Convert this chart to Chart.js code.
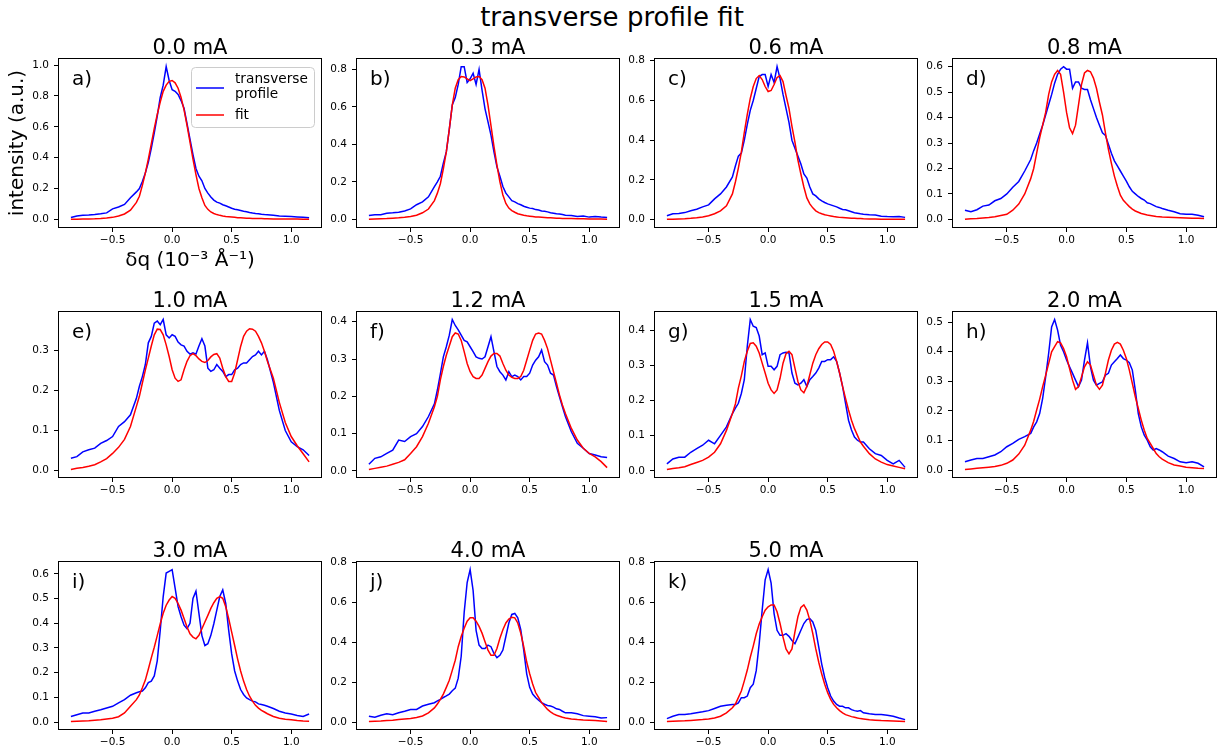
<!DOCTYPE html>
<html>
<head>
<meta charset="utf-8">
<script src="https://cdn.jsdelivr.net/npm/chart.js@4"></script>
<style>
  body { margin: 0; background: #fff; width: 1224px; height: 749px; position: relative; overflow: hidden; font-family: "DejaVu Sans", sans-serif; }
  #title { position: absolute; left: 0; top: 2px; width: 1224px; text-align: center; font-size: 26px; line-height: 30px; color: #000; }
</style>
</head>
<body>
<div id="title">transverse profile fit</div>
<script>
// shared q axis (10^-3 1/A), finer in the middle where the peaks are
const dq = [
  -0.85, -0.8, -0.75, -0.7, -0.65, -0.6, -0.55, -0.5, -0.45, -0.4, -0.35,
  -0.3, -0.275, -0.25, -0.225, -0.2, -0.175, -0.15, -0.125, -0.1,
  -0.075, -0.05, -0.025, 0, 0.025, 0.05, 0.075, 0.1, 0.125,
  0.15, 0.175, 0.2, 0.225, 0.25, 0.275, 0.3, 0.325, 0.35,
  0.375, 0.4, 0.425, 0.45, 0.475, 0.5, 0.525, 0.55, 0.575,
  0.6, 0.625, 0.65, 0.675, 0.7, 0.725, 0.75, 0.775, 0.8,
  0.85, 0.9, 0.95, 1.0, 1.05, 1.1, 1.15
];

const currents = ['0.0 mA', '0.3 mA', '0.6 mA', '0.8 mA', '1.0 mA', '1.2 mA', '1.5 mA', '2.0 mA', '3.0 mA', '4.0 mA', '5.0 mA'];
const tags = ['a)', 'b)', 'c)', 'd)', 'e)', 'f)', 'g)', 'h)', 'i)', 'j)', 'k)'];
const yStep = [0.2, 0.2, 0.2, 0.1, 0.1, 0.1, 0.1, 0.1, 0.1, 0.2, 0.2];
const xTicks = [-0.5, 0, 0.5, 1.0];

// measured transverse profiles (blue) and fits (red)
const prof_a = [
  0.012, 0.022, 0.026, 0.028, 0.031, 0.036, 0.042, 0.068, 0.08, 0.097, 0.14,
  0.178, 0.2, 0.245, 0.3, 0.37, 0.46, 0.56, 0.67, 0.79,
  0.87, 0.99, 0.9, 0.84, 0.83, 0.81, 0.77, 0.72, 0.62,
  0.52, 0.42, 0.33, 0.28, 0.25, 0.2, 0.17, 0.145, 0.125,
  0.112, 0.105, 0.095, 0.088, 0.08, 0.072, 0.066, 0.062, 0.057,
  0.052, 0.05, 0.045, 0.041, 0.038, 0.036, 0.033, 0.031, 0.03,
  0.026, 0.022, 0.02, 0.018, 0.016, 0.013, 0.01
];
const fit_a = [
  0.0, 0.001, 0.002, 0.003, 0.004, 0.006, 0.009, 0.013, 0.022, 0.035, 0.06,
  0.11, 0.15, 0.22, 0.3, 0.39, 0.49, 0.59, 0.68, 0.76,
  0.83, 0.87, 0.895, 0.9, 0.885, 0.85, 0.79, 0.71, 0.61,
  0.5, 0.39, 0.29, 0.2, 0.14, 0.09, 0.065, 0.048, 0.038,
  0.031, 0.026, 0.022, 0.019, 0.017, 0.015, 0.013, 0.011, 0.01,
  0.009, 0.008, 0.007, 0.006, 0.006, 0.005, 0.005, 0.004, 0.004,
  0.003, 0.003, 0.002, 0.002, 0.002, 0.001, 0.001
];
const prof_b = [
  0.02, 0.024, 0.025, 0.033, 0.035, 0.038, 0.045, 0.056, 0.078, 0.093, 0.12,
  0.175, 0.2, 0.23, 0.3, 0.36, 0.48, 0.61, 0.65, 0.72,
  0.815, 0.815, 0.73, 0.75, 0.78, 0.72, 0.8, 0.69, 0.59,
  0.52, 0.45, 0.36, 0.28, 0.23, 0.175, 0.14, 0.12, 0.1,
  0.093, 0.084, 0.078, 0.07, 0.065, 0.06, 0.058, 0.052, 0.05,
  0.045, 0.043, 0.04, 0.035, 0.033, 0.03, 0.028, 0.026, 0.022,
  0.02, 0.015, 0.018, 0.012, 0.015, 0.012, 0.01
];
const fit_b = [
  0.0, 0.002, 0.003, 0.004, 0.006, 0.008, 0.011, 0.015, 0.022, 0.035, 0.055,
  0.1, 0.14, 0.19, 0.27, 0.36, 0.48, 0.61, 0.7, 0.745,
  0.762, 0.76, 0.75, 0.74, 0.75, 0.76, 0.762, 0.745, 0.7,
  0.61, 0.5, 0.39, 0.29, 0.2, 0.13, 0.085, 0.06, 0.047,
  0.038, 0.03, 0.026, 0.022, 0.019, 0.017, 0.015, 0.013, 0.012,
  0.011, 0.01, 0.009, 0.008, 0.007, 0.006, 0.006, 0.005, 0.005,
  0.004, 0.003, 0.003, 0.002, 0.002, 0.002, 0.001
];
const prof_c = [
  0.02, 0.03, 0.032, 0.036, 0.045, 0.053, 0.065, 0.075, 0.105, 0.13, 0.165,
  0.215, 0.27, 0.32, 0.335, 0.4, 0.48, 0.55, 0.6, 0.66,
  0.72, 0.73, 0.73, 0.67, 0.73, 0.69, 0.77, 0.71, 0.63,
  0.56, 0.49, 0.4, 0.36, 0.32, 0.28, 0.23, 0.21, 0.165,
  0.13, 0.12, 0.105, 0.095, 0.087, 0.08, 0.075, 0.07, 0.065,
  0.058, 0.052, 0.05, 0.045, 0.04, 0.035, 0.033, 0.03, 0.028,
  0.025, 0.024, 0.018, 0.016, 0.015, 0.016, 0.012
];
const fit_c = [
  0.002, 0.003, 0.004, 0.005, 0.007, 0.01, 0.014, 0.02, 0.03, 0.045, 0.07,
  0.13, 0.19, 0.26, 0.34, 0.44, 0.53, 0.61, 0.67, 0.71,
  0.725, 0.705, 0.67, 0.645, 0.65, 0.68, 0.715, 0.725, 0.695,
  0.625, 0.56, 0.47, 0.39, 0.3, 0.23, 0.165, 0.11, 0.08,
  0.06, 0.045, 0.036, 0.03, 0.025, 0.022, 0.019, 0.016, 0.014,
  0.012, 0.011, 0.01, 0.009, 0.008, 0.007, 0.006, 0.006, 0.005,
  0.004, 0.004, 0.003, 0.003, 0.002, 0.002, 0.002
];
const prof_d = [
  0.036, 0.03, 0.038, 0.052, 0.056, 0.073, 0.082, 0.1, 0.126, 0.149, 0.19,
  0.235, 0.27, 0.3, 0.335, 0.37, 0.41, 0.45, 0.49, 0.535,
  0.57, 0.59, 0.6, 0.59, 0.59, 0.515, 0.54, 0.54, 0.515,
  0.51, 0.51, 0.47, 0.435, 0.4, 0.37, 0.34, 0.33, 0.295,
  0.26, 0.23, 0.21, 0.19, 0.17, 0.15, 0.128, 0.11, 0.1,
  0.09, 0.082, 0.076, 0.065, 0.062, 0.056, 0.05, 0.047, 0.043,
  0.036, 0.03, 0.022, 0.02, 0.02, 0.016, 0.01
];
const fit_d = [
  0.0, 0.002, 0.003, 0.005, 0.007, 0.01, 0.015, 0.02, 0.036, 0.06, 0.1,
  0.16, 0.2, 0.26, 0.32, 0.37, 0.42, 0.49, 0.54, 0.57,
  0.585, 0.57, 0.5, 0.42, 0.36, 0.337, 0.37, 0.45, 0.53,
  0.575, 0.585, 0.58, 0.555, 0.515, 0.46, 0.41, 0.34, 0.275,
  0.22, 0.17, 0.13, 0.095, 0.075, 0.062, 0.05, 0.04, 0.033,
  0.028, 0.023, 0.02, 0.017, 0.015, 0.013, 0.011, 0.01, 0.009,
  0.008, 0.007, 0.006, 0.005, 0.004, 0.004, 0.003
];
const prof_e = [
  0.031, 0.035, 0.047, 0.052, 0.056, 0.068, 0.075, 0.085, 0.11, 0.122, 0.139,
  0.18, 0.21, 0.234, 0.264, 0.318, 0.334, 0.367, 0.372, 0.363,
  0.376, 0.338, 0.33, 0.338, 0.334, 0.32, 0.313, 0.31, 0.297,
  0.29, 0.293, 0.29, 0.31, 0.328, 0.31, 0.255, 0.247, 0.251,
  0.264, 0.255, 0.247, 0.234, 0.239, 0.239, 0.251, 0.255, 0.264,
  0.268, 0.268, 0.276, 0.284, 0.288, 0.297, 0.288, 0.297, 0.276,
  0.22, 0.15, 0.1, 0.072, 0.06, 0.052, 0.038
];
const fit_e = [
  0.003, 0.006, 0.008, 0.011, 0.015, 0.022, 0.03, 0.043, 0.058, 0.078, 0.11,
  0.16, 0.185, 0.218, 0.25, 0.28, 0.31, 0.338, 0.352, 0.351,
  0.338, 0.313, 0.284, 0.251, 0.23, 0.222, 0.226, 0.251, 0.272,
  0.286, 0.291, 0.286, 0.278, 0.272, 0.269, 0.274, 0.283, 0.289,
  0.291, 0.28, 0.255, 0.234, 0.222, 0.222, 0.243, 0.276, 0.309,
  0.334, 0.347, 0.353, 0.352, 0.347, 0.334, 0.318, 0.297, 0.272,
  0.23, 0.17, 0.12, 0.085, 0.062, 0.042, 0.022
];
const prof_f = [
  0.018, 0.034, 0.038, 0.047, 0.056, 0.083, 0.079, 0.092, 0.1, 0.119, 0.146,
  0.18, 0.217, 0.26, 0.306, 0.333, 0.364, 0.406, 0.39, 0.378,
  0.364, 0.35, 0.346, 0.333, 0.32, 0.306, 0.302, 0.3, 0.306,
  0.333, 0.36, 0.32, 0.28, 0.266, 0.257, 0.244, 0.266, 0.253,
  0.257, 0.253, 0.244, 0.253, 0.253, 0.262, 0.284, 0.297, 0.306,
  0.324, 0.293, 0.284, 0.262, 0.257, 0.226, 0.199, 0.172, 0.146,
  0.105, 0.074, 0.061, 0.047, 0.043, 0.038, 0.036
];
const fit_f = [
  0.004, 0.007, 0.01, 0.013, 0.018, 0.023, 0.03, 0.047, 0.065, 0.092, 0.128,
  0.172, 0.2, 0.244, 0.28, 0.31, 0.335, 0.36, 0.37, 0.367,
  0.35, 0.32, 0.288, 0.266, 0.253, 0.248, 0.248, 0.257, 0.275,
  0.293, 0.308, 0.315, 0.315, 0.308, 0.288, 0.27, 0.257, 0.251,
  0.248, 0.248, 0.253, 0.27, 0.297, 0.324, 0.35, 0.367, 0.37,
  0.367, 0.35, 0.328, 0.297, 0.266, 0.235, 0.204, 0.177, 0.154,
  0.114, 0.083, 0.061, 0.047, 0.038, 0.025, 0.009
];
const prof_g = [
  0.02, 0.034, 0.039, 0.039, 0.053, 0.063, 0.073, 0.087, 0.077, 0.101, 0.125,
  0.163, 0.178, 0.192, 0.22, 0.259, 0.354, 0.43, 0.411, 0.407,
  0.383, 0.33, 0.335, 0.297, 0.297, 0.287, 0.297, 0.33, 0.335,
  0.337, 0.335, 0.278, 0.249, 0.244, 0.249, 0.259, 0.24, 0.259,
  0.268, 0.278, 0.292, 0.311, 0.311, 0.316, 0.316, 0.324, 0.311,
  0.278, 0.24, 0.192, 0.144, 0.116, 0.096, 0.087, 0.082, 0.082,
  0.063, 0.049, 0.044, 0.03, 0.02, 0.03, 0.01
];
const fit_g = [
  0.004, 0.007, 0.009, 0.012, 0.018, 0.024, 0.03, 0.039, 0.053, 0.077, 0.115,
  0.163, 0.19, 0.235, 0.27, 0.311, 0.34, 0.362, 0.364, 0.354,
  0.335, 0.306, 0.278, 0.249, 0.23, 0.22, 0.23, 0.263, 0.306,
  0.333, 0.34, 0.33, 0.292, 0.254, 0.23, 0.222, 0.24, 0.273,
  0.306, 0.33, 0.347, 0.359, 0.366, 0.366, 0.359, 0.34, 0.311,
  0.278, 0.24, 0.206, 0.173, 0.144, 0.12, 0.101, 0.082, 0.07,
  0.049, 0.034, 0.025, 0.018, 0.014, 0.01, 0.006
];
const prof_h = [
  0.028, 0.034, 0.039, 0.039, 0.045, 0.051, 0.062, 0.079, 0.09, 0.104, 0.113,
  0.124, 0.146, 0.163, 0.191, 0.242, 0.315, 0.394, 0.484, 0.509,
  0.473, 0.422, 0.4, 0.372, 0.349, 0.327, 0.304, 0.282, 0.304,
  0.372, 0.43, 0.349, 0.304, 0.287, 0.293, 0.298, 0.321, 0.327,
  0.355, 0.366, 0.377, 0.389, 0.377, 0.372, 0.363, 0.338, 0.27,
  0.191, 0.146, 0.118, 0.101, 0.079, 0.068, 0.073, 0.068, 0.062,
  0.047, 0.039, 0.028, 0.025, 0.028, 0.023, 0.011
];
const fit_h = [
  0.002, 0.004, 0.006, 0.008, 0.01, 0.012, 0.016, 0.023, 0.034, 0.054, 0.084,
  0.135, 0.165, 0.203, 0.24, 0.282, 0.32, 0.36, 0.4, 0.417,
  0.434, 0.43, 0.411, 0.383, 0.343, 0.304, 0.273, 0.282, 0.315,
  0.349, 0.366, 0.355, 0.321, 0.287, 0.273, 0.287, 0.327, 0.372,
  0.405, 0.426, 0.432, 0.426, 0.405, 0.377, 0.338, 0.293, 0.248,
  0.208, 0.169, 0.135, 0.107, 0.09, 0.073, 0.056, 0.045, 0.037,
  0.025, 0.017, 0.014, 0.01, 0.008, 0.006, 0.005
];
const prof_i = [
  0.023, 0.03, 0.037, 0.037, 0.044, 0.05, 0.057, 0.064, 0.078, 0.091, 0.109,
  0.119, 0.123, 0.126, 0.139, 0.16, 0.166, 0.187, 0.248, 0.371,
  0.508, 0.603, 0.61, 0.617, 0.542, 0.467, 0.426, 0.392, 0.378,
  0.4, 0.5, 0.53, 0.44, 0.35, 0.31, 0.317, 0.351, 0.398,
  0.453, 0.508, 0.535, 0.48, 0.371, 0.276, 0.207, 0.166, 0.132,
  0.112, 0.098, 0.091, 0.085, 0.082, 0.074, 0.071, 0.068, 0.064,
  0.055, 0.044, 0.037, 0.033, 0.027, 0.023, 0.033
];
const fit_i = [
  0.003, 0.004, 0.005, 0.006, 0.008, 0.01, 0.013, 0.016, 0.022, 0.037, 0.064,
  0.091, 0.11, 0.139, 0.17, 0.214, 0.26, 0.303, 0.35, 0.398,
  0.44, 0.473, 0.494, 0.508, 0.501, 0.48, 0.453, 0.419, 0.385,
  0.357, 0.344, 0.337, 0.351, 0.378, 0.405, 0.432, 0.46, 0.483,
  0.501, 0.508, 0.501, 0.467, 0.419, 0.364, 0.31, 0.255, 0.207,
  0.166, 0.132, 0.105, 0.085, 0.068, 0.057, 0.048, 0.041, 0.034,
  0.023, 0.016, 0.012, 0.01, 0.007, 0.005, 0.004
];
const prof_j = [
  0.029, 0.024, 0.034, 0.041, 0.037, 0.046, 0.054, 0.063, 0.063, 0.08, 0.089,
  0.097, 0.106, 0.114, 0.123, 0.131, 0.14, 0.157, 0.17, 0.22,
  0.33, 0.55, 0.7, 0.765, 0.66, 0.46, 0.386, 0.369, 0.369,
  0.386, 0.378, 0.344, 0.323, 0.335, 0.361, 0.429, 0.497, 0.54,
  0.545, 0.523, 0.463, 0.361, 0.242, 0.174, 0.14, 0.123, 0.109,
  0.097, 0.089, 0.083, 0.08, 0.075, 0.066, 0.063, 0.054, 0.046,
  0.046, 0.041, 0.032, 0.029, 0.026, 0.02, 0.022
];
const fit_j = [
  0.003, 0.004, 0.005, 0.007, 0.009, 0.012, 0.015, 0.018, 0.023, 0.03, 0.046,
  0.071, 0.09, 0.114, 0.14, 0.174, 0.21, 0.259, 0.31, 0.378,
  0.429, 0.471, 0.506, 0.523, 0.523, 0.506, 0.48, 0.446, 0.403,
  0.361, 0.335, 0.335, 0.369, 0.42, 0.463, 0.497, 0.517, 0.526,
  0.523, 0.497, 0.446, 0.378, 0.301, 0.242, 0.191, 0.148, 0.123,
  0.097, 0.08, 0.063, 0.051, 0.041, 0.034, 0.029, 0.024, 0.02,
  0.015, 0.012, 0.01, 0.009, 0.007, 0.005, 0.003
];
const prof_k = [
  0.017, 0.029, 0.037, 0.037, 0.041, 0.046, 0.051, 0.057, 0.068, 0.079, 0.084,
  0.088, 0.088, 0.096, 0.122, 0.122, 0.13, 0.172, 0.189, 0.257,
  0.392, 0.56, 0.712, 0.763, 0.695, 0.543, 0.459, 0.434, 0.434,
  0.442, 0.429, 0.408, 0.392, 0.425, 0.459, 0.493, 0.513, 0.518,
  0.501, 0.459, 0.375, 0.29, 0.223, 0.172, 0.13, 0.105, 0.088,
  0.079, 0.079, 0.071, 0.071, 0.062, 0.057, 0.054, 0.057, 0.046,
  0.041, 0.037, 0.037, 0.034, 0.029, 0.02, 0.012
];
const fit_k = [
  0.003, 0.004, 0.005, 0.006, 0.008, 0.01, 0.012, 0.015, 0.02, 0.029, 0.046,
  0.071, 0.09, 0.122, 0.155, 0.206, 0.26, 0.324, 0.38, 0.442,
  0.49, 0.527, 0.56, 0.577, 0.586, 0.586, 0.552, 0.493, 0.425,
  0.366, 0.341, 0.366, 0.451, 0.527, 0.574, 0.586, 0.56, 0.51,
  0.442, 0.366, 0.299, 0.24, 0.189, 0.147, 0.113, 0.088, 0.071,
  0.057, 0.046, 0.037, 0.032, 0.027, 0.024, 0.02, 0.017, 0.015,
  0.011, 0.009, 0.007, 0.006, 0.005, 0.004, 0.003
];

const profiles = [prof_a, prof_b, prof_c, prof_d, prof_e, prof_f, prof_g, prof_h, prof_i, prof_j, prof_k];
const fits = [fit_a, fit_b, fit_c, fit_d, fit_e, fit_f, fit_g, fit_h, fit_i, fit_j, fit_k];

// subplot boxes (plot areas) in page pixels
const colLeft = [59, 357, 655, 953];
const colRight = [321, 619, 917, 1216];
const rowTop = [59, 312, 562];
const rowBottom = [227, 477, 729];

Chart.defaults.font.family = '"DejaVu Sans", sans-serif';
Chart.defaults.color = '#000';

const fmt = v => (v < -1e-9 ? '\u2212' : '') + Math.abs(v).toFixed(1);

// axes frame, subplot title, panel letter and (first panel) legend
const panelDecor = {
  id: 'panelDecor',
  afterDatasetsDraw(chart, args, opts) {
    const ctx = chart.ctx, ca = chart.chartArea;
    ctx.save();
    ctx.strokeStyle = '#000';
    ctx.lineWidth = 1;
    ctx.strokeRect(Math.round(ca.left) - 0.5, Math.round(ca.top) - 0.5,
      Math.round(ca.right - ca.left) + 1, Math.round(ca.bottom - ca.top) + 1);

    ctx.fillStyle = '#000';
    ctx.textBaseline = 'alphabetic';
    ctx.font = '21px "DejaVu Sans"';
    ctx.textAlign = 'center';
    ctx.fillText(opts.title, (ca.left + ca.right) / 2, ca.top - 5);

    ctx.font = '20px "DejaVu Sans"';
    ctx.textAlign = 'left';
    ctx.fillText(opts.tag, ca.left + 13, ca.top + 26);

    if (opts.legend) {
      const bx = ca.right - 130, by = ca.top + 8, bw = 123, bh = 60;
      ctx.beginPath();
      if (ctx.roundRect) ctx.roundRect(bx + 0.5, by + 0.5, bw, bh, 4);
      else ctx.rect(bx + 0.5, by + 0.5, bw, bh);
      ctx.fillStyle = 'rgba(255,255,255,0.8)';
      ctx.fill();
      ctx.strokeStyle = '#cccccc';
      ctx.stroke();

      const ds = chart.data.datasets;
      const rows = [
        { color: ds[0].borderColor, lines: ds[0].label.split(' '), y: by + 21, ty: by + 12 },
        { color: ds[1].borderColor, lines: [ds[1].label], y: by + 48, ty: by + 48 }
      ];
      ctx.font = '13.7px "DejaVu Sans"';
      ctx.textBaseline = 'middle';
      rows.forEach(r => {
        ctx.strokeStyle = r.color;
        ctx.lineWidth = 1.5;
        ctx.beginPath();
        ctx.moveTo(bx + 5, r.y);
        ctx.lineTo(bx + 33, r.y);
        ctx.stroke();
        ctx.fillStyle = '#000';
        r.lines.forEach((t, k) => ctx.fillText(t, bx + 44, r.ty + k * 15));
      });
    }
    ctx.restore();
  }
};

profiles.forEach((prof, i) => {
  const fit = fits[i];
  if (prof.length !== dq.length || fit.length !== dq.length) throw new Error('length mismatch in panel ' + tags[i]);
  const col = i % 4, row = Math.floor(i / 4);
  const L = colLeft[col], R = colRight[col], T = rowTop[row], B = rowBottom[row];
  const first = i === 0;
  const YW = first ? L : 40, TH = 40, XH = first ? 60 : 22, RP = 6;
  const w = (R - L) + YW + RP, h = (B - T) + TH + XH;

  const cv = document.createElement('canvas');
  cv.width = w;
  cv.height = h;
  cv.style.cssText = `position:absolute;left:${L - YW}px;top:${T - TH}px;width:${w}px;height:${h}px;`;
  document.body.appendChild(cv);

  const all = prof.concat(fit);
  const lo = Math.min(...all), hi = Math.max(...all), pad = 0.05 * (hi - lo);
  const step = yStep[i];

  new Chart(cv, {
    type: 'line',
    data: {
      datasets: [
        { label: 'transverse profile', data: dq.map((x, j) => ({ x: x, y: prof[j] })),
          borderColor: '#0000ff', borderWidth: 1.5, pointRadius: 0, tension: 0, order: 1 },
        { label: 'fit', data: dq.map((x, j) => ({ x: x, y: fit[j] })),
          borderColor: '#ff0000', borderWidth: 1.5, pointRadius: 0, tension: 0, order: 0 }
      ]
    },
    options: {
      responsive: false,
      animation: false,
      devicePixelRatio: 1,
      events: [],
      layout: { padding: { left: 0, top: TH, right: RP, bottom: 0 } },
      plugins: {
        legend: { display: false },
        tooltip: { enabled: false },
        panelDecor: { title: currents[i], tag: tags[i], legend: first }
      },
      scales: {
        x: {
          type: 'linear',
          min: -0.95,
          max: 1.25,
          afterBuildTicks: s => { s.ticks = xTicks.map(v => ({ value: v })); },
          afterFit: s => { s.height = XH; },
          ticks: { font: { size: 10.5 }, color: '#000', padding: 2, maxRotation: 0, autoSkip: false, callback: fmt },
          grid: { drawOnChartArea: false, drawTicks: true, tickLength: 5, color: '#000' },
          border: { display: false },
          title: { display: first, text: '\u03b4q (10\u207b\u00b3 \u00c5\u207b\u00b9)', font: { size: 20 }, color: '#000', padding: { top: 0, bottom: 14 } }
        },
        y: {
          type: 'linear',
          min: lo - pad,
          max: hi + pad,
          afterBuildTicks: s => {
            const t = [];
            for (let k = 0; k * step <= s.max + 1e-9; k++) t.push({ value: +(k * step).toFixed(2) });
            s.ticks = t;
          },
          afterFit: s => { s.width = YW; },
          ticks: { font: { size: 10.5 }, color: '#000', padding: 5, autoSkip: false, callback: fmt },
          grid: { drawOnChartArea: false, drawTicks: true, tickLength: 5, color: '#000' },
          border: { display: false },
          title: { display: first, text: 'intensity (a.u.)', font: { size: 20 }, color: '#000', padding: { top: 6, bottom: 0 } }
        }
      }
    },
    plugins: [panelDecor]
  });
});
</script>
</body>
</html>
